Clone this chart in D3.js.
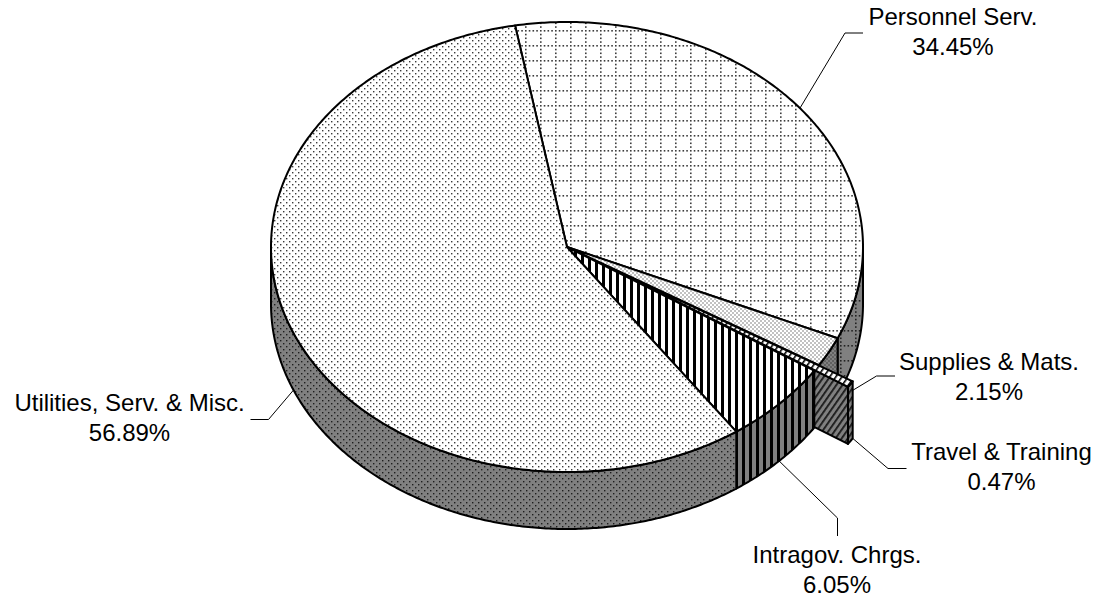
<!DOCTYPE html>
<html>
<head>
<meta charset="utf-8">
<script src="https://cdn.jsdelivr.net/npm/d3@7"></script>
<style>
  html, body { margin: 0; padding: 0; background: #fff; }
  svg { display: block; }
  text { font-family: "Liberation Sans", Arial, Helvetica, sans-serif; font-size: 24px; fill: #000; }
</style>
</head>
<body>
<svg id="chart" width="1097" height="599"></svg>
<script>
// Budget shares by object class
const categories = ["Personnel Serv.", "Supplies & Mats.", "Travel & Training", "Intragov. Chrgs.", "Utilities, Serv. & Misc."];
const shares = [34.45, 2.15, 0.47, 6.05, 56.89];
const percentLabels = ["34.45%", "2.15%", "0.47%", "6.05%", "56.89%"];

// ---- geometry of the tilted pie ----
const W = 1097, H = 599;
const cx = 567, cy = 247;      // centre of the top face
const rx = 296, ry = 225;      // radii of the top ellipse
const depth = 57;              // thickness of the disc
const startDeg = -10.1;        // first slice starts just left of 12 o'clock
const explodeBy = { "Travel & Training": 0.135 };

const svg = d3.select("#chart");
const defs = svg.append("defs");

// ---- fill patterns (top face / darker side face) ----
function pattern(id, w, h, bg, draw, transform) {
  const p = defs.append("pattern")
    .attr("id", id).attr("patternUnits", "userSpaceOnUse")
    .attr("width", w).attr("height", h);
  if (transform) p.attr("patternTransform", transform);
  p.append("rect").attr("width", w).attr("height", h).attr("fill", bg);
  draw(p);
}
const SIDE = "#808080";

function dottedGrid(fg) {
  return p => {
    for (let i = 0; i < 4; i++) {
      p.append("rect").attr("x", i * 3.75).attr("y", 0).attr("width", 1.6).attr("height", 1.6).attr("fill", fg);
      if (i > 0) p.append("rect").attr("x", 0).attr("y", i * 3.75).attr("width", 1.6).attr("height", 1.6).attr("fill", fg);
    }
  };
}
function stagger(fg, a, b, s) {
  return p => {
    p.append("rect").attr("x", a).attr("y", a).attr("width", s).attr("height", s).attr("fill", fg);
    p.append("rect").attr("x", b).attr("y", b).attr("width", s).attr("height", s).attr("fill", fg);
  };
}
function vstripe(fg, w) {
  return p => p.append("rect").attr("x", 0).attr("y", 0).attr("width", w).attr("height", 20).attr("fill", fg);
}

pattern("grid-top", 15, 15, "#fff", dottedGrid("#3c3c3c"));
pattern("grid-side", 15, 15, SIDE, dottedGrid("#222"));
pattern("dots-top", 6, 6, "#fff", stagger("#3a3a3a", 1, 4, 1.4));
pattern("dots-side", 6, 6, SIDE, stagger("#1e1e1e", 1, 4, 1.4));
pattern("fine-top", 4, 4, "#fff", stagger("#555", 0.4, 2.4, 1.2));
pattern("fine-side", 4, 4, SIDE, stagger("#2a2a2a", 0.4, 2.4, 1.2));
pattern("vstripe-top", 7, 20, "#fff", vstripe("#000", 3));
pattern("vstripe-side", 7, 20, SIDE, vstripe("#000", 3));
pattern("diag-top", 5, 20, "#fff", vstripe("#000", 1.6), "rotate(35)");
pattern("diag-side", 5, 20, SIDE, vstripe("#1a1a1a", 1.8), "rotate(35)");

const fills = [
  { top: "url(#grid-top)",    side: "url(#grid-side)" },
  { top: "url(#fine-top)",    side: "url(#fine-side)" },
  { top: "url(#diag-top)",    side: "url(#diag-side)" },
  { top: "url(#vstripe-top)", side: "url(#vstripe-side)" },
  { top: "url(#dots-top)",    side: "url(#dots-side)" }
];

// ---- slice angles from the pie layout ----
const rows = categories.map((c, i) => ({ name: c, value: shares[i], label: percentLabels[i], i }));
const a0 = startDeg * Math.PI / 180;
const arcs = d3.pie().sort(null).value(d => d.value).startAngle(a0).endAngle(a0 + 2 * Math.PI)(rows);

arcs.forEach(a => {
  const e = explodeBy[a.data.name] || 0;
  const mid = (a.startAngle + a.endAngle) / 2;
  a.off = [e * rx * Math.sin(mid), -e * ry * Math.cos(mid)];
});

function pt(a, r, dz, off) {
  return [cx + off[0] + r * rx * Math.sin(a), cy + off[1] - r * ry * Math.cos(a) + dz];
}
function arcPts(s, e, dz, off) {
  const n = Math.max(2, Math.ceil(Math.abs(e - s) / 0.01));
  return d3.range(n + 1).map(k => pt(s + (e - s) * k / n, 1, dz, off));
}
const line = d3.line();
const closed = pts => line(pts) + "Z";

function topPath(a) {
  return closed([[cx + a.off[0], cy + a.off[1]], ...arcPts(a.startAngle, a.endAngle, 0, a.off)]);
}
function wallPath(a) {
  const s = Math.max(a.startAngle, Math.PI / 2), e = Math.min(a.endAngle, 3 * Math.PI / 2);
  if (e <= s) return null;
  const upper = arcPts(s, e, 0, a.off);
  const lower = arcPts(s, e, depth, a.off).reverse();
  return closed([...upper, ...lower]);
}
function facePath(a, ang) {
  const c = [cx + a.off[0], cy + a.off[1]];
  return closed([c, pt(ang, 1, 0, a.off), pt(ang, 1, depth, a.off), [c[0], c[1] + depth]]);
}

const g = svg.append("g")
  .attr("stroke", "#000").attr("stroke-width", 2).attr("stroke-linejoin", "round");

function draw(d, fill) {
  if (d) g.append("path").attr("d", d).attr("fill", fill);
}

const [pers, supp, trav, intra, util] = arcs;

// back-right pieces first
draw(wallPath(pers), fills[0].side);
draw(facePath(supp, supp.endAngle), fills[1].side);
draw(wallPath(supp), fills[1].side);
draw(topPath(pers), fills[0].top);
draw(topPath(supp), fills[1].top);

// the pulled-out slice
draw(facePath(trav, trav.endAngle), fills[2].side);
draw(wallPath(trav), fills[2].side);
draw(topPath(trav), fills[2].top);

// front pieces
draw(wallPath(intra), fills[3].side);
draw(topPath(intra), fills[3].top);
draw(wallPath(util), fills[4].side);
draw(topPath(util), fills[4].top);

// ---- labels with leader lines ----
const midA = a => (a.startAngle + a.endAngle) / 2;
const layout = [
  { x: 953,    y: 25,    anchor: a => pt(midA(a), 1, 0, a.off),              bend: [[845, 33], [863, 33]] },
  { x: 989,    y: 369.5, anchor: () => pt(trav.startAngle, 1, 9, trav.off),   bend: [[876.5, 376], [895, 376]] },
  { x: 1001.5, y: 460,   anchor: () => pt(trav.startAngle, 1, depth, trav.off), bend: [[888, 468.5], [906.5, 468.5]] },
  { x: 837,    y: 563,   anchor: a => pt(midA(a), 1, depth, a.off),          bend: [[837.5, 518], [837.5, 536]] },
  { x: 129.5,  y: 411,   anchor: a => pt(midA(a), 1, depth, a.off),          bend: [[268.5, 419.5], [250.5, 419.5]] }
];

const lg = svg.append("g");
arcs.forEach((a, i) => {
  const L = layout[i];
  lg.append("path")
    .attr("d", line([L.anchor(a), ...L.bend]))
    .attr("fill", "none").attr("stroke", "#000").attr("stroke-width", 1);
  const t = lg.append("text").attr("text-anchor", "middle");
  t.append("tspan").attr("x", L.x).attr("y", L.y).text(a.data.name);
  t.append("tspan").attr("x", L.x).attr("y", L.y + 30).text(a.data.label);
});
</script>
</body>
</html>
